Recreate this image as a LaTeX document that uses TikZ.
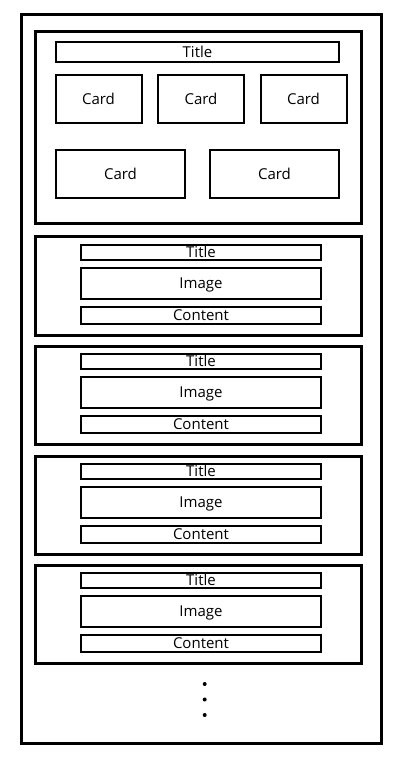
\documentclass[tikz,border=0pt]{standalone}
\usepackage{fontspec}
\setmainfont{Open Sans}
\usetikzlibrary{positioning}

\tikzset{
  frame/.style={draw, line width=3pt, inner sep=0pt},
  box/.style={draw, line width=2pt, inner sep=0pt,
    font=\fontsize{15}{18}\selectfont, text height=10.7pt, text depth=0pt},
  card/.style={box, minimum height=48pt},
}

\begin{document}
\begin{tikzpicture}[x=1pt,y=-1pt]
\useasboundingbox (0,0) rectangle (408,766);

\node[frame, minimum width=359.3pt, minimum height=729pt] (page) at (201.6,379.2) {};

\node[frame, minimum width=326pt, minimum height=192pt] (head) at (198.4,127.5) {};
\node[box, minimum width=283pt, minimum height=20pt] (headtitle) at (197.5,52) {Title};
\node[card, minimum width=86pt] (c1) at (98.5,99) {Card};
\node[card, minimum width=86pt] (c2) [right=14.5pt of c1] {Card};
\node[card, minimum width=86pt] (c3) [right=14.5pt of c2] {Card};
\node[card, minimum width=129pt] (c4) at (120.5,174) {Card};
\node[card, minimum width=129pt] (c5) [right=23pt of c4] {Card};

\foreach \i/\y in {1/286, 2/395.5, 3/505.5, 4/614.5} {
  \node[frame, minimum width=326pt, minimum height=98.5pt] (sec\i) at (198.4,\y) {};
  \node[box, minimum width=240pt, minimum height=15pt] (title\i) at (201,\y-34) {Title};
  \node[box, minimum width=240pt, minimum height=31pt] (image\i) at (201,\y-3) {Image};
  \node[box, minimum width=240pt, minimum height=17pt] (content\i) at (201,\y+29) {Content};
}

\foreach \y in {684, 699.5, 715}
  \fill (204.7,\y) circle (2pt);
\end{tikzpicture}
\end{document}
